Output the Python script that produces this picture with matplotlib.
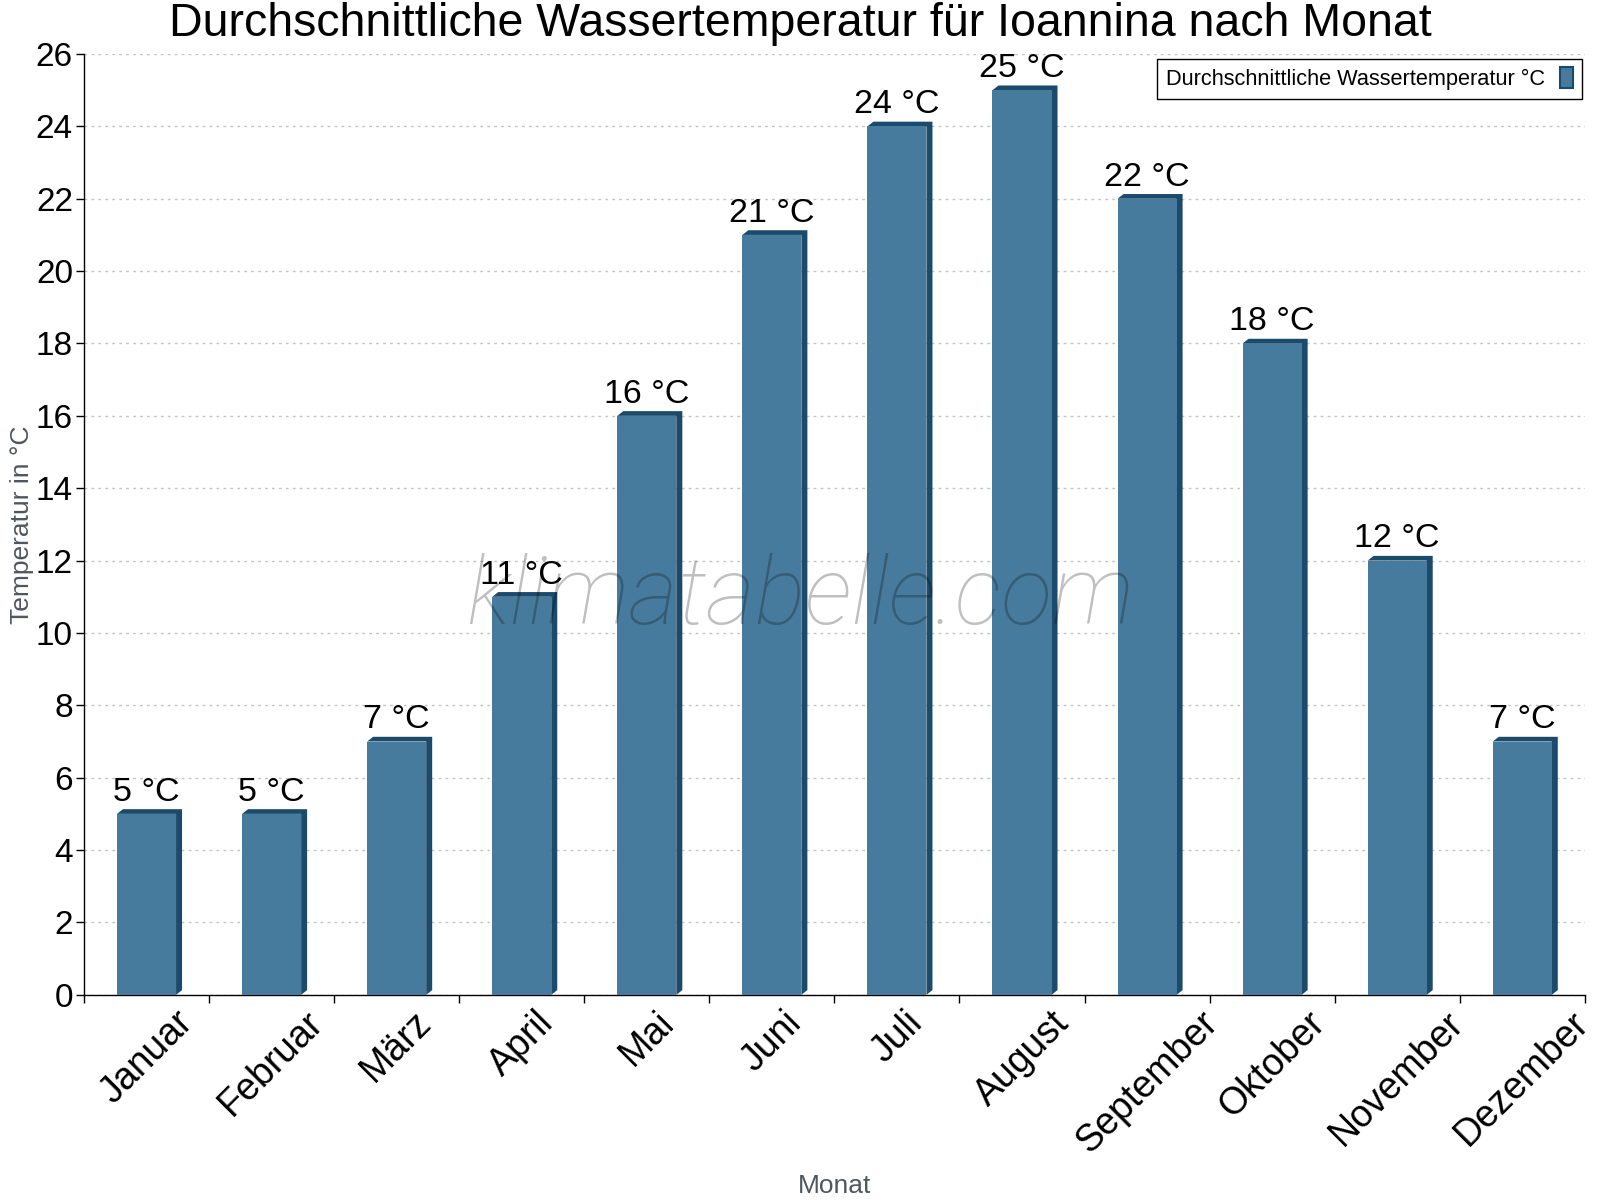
import matplotlib
matplotlib.use('Agg')
import matplotlib.pyplot as plt
from matplotlib.patches import Patch
from matplotlib.ticker import FixedLocator, MultipleLocator

plt.rcParams['font.family'] = ['Liberation Sans', 'DejaVu Sans']

months = ['Januar', 'Februar', 'März', 'April', 'Mai', 'Juni', 'Juli',
          'August', 'September', 'Oktober', 'November', 'Dezember']
water_temp = [5, 5, 7, 11, 16, 21, 24, 25, 22, 18, 12, 7]
value_labels = [f'{v} °C' for v in water_temp]
series_name = 'Durchschnittliche Wassertemperatur °C'

front = '#477b9d'
dark = '#1b4a6b'

fig = plt.figure(figsize=(16, 12), dpi=100)
ax = fig.add_axes([0.0525, 0.171, 0.938, 0.784])

xs = list(range(len(months)))
w = 0.472
dx = 0.048
dy = 0.13

# 3d look: dark top + side face, then the front face
for x, v in zip(xs, water_temp):
    x0 = x - w / 2
    x1 = x + w / 2
    ax.fill([x0, x0 + dx, x1 + dx, x1 + dx, x1, x1],
            [v, v + dy, v + dy, dy, 0, v], color=dark, lw=0, zorder=2)
ax.bar(xs, water_temp, width=w, color=front, lw=0, zorder=3)

for x, v, lab in zip(xs, water_temp, value_labels):
    ax.annotate(lab, (x, v + dy), xytext=(0, 1), textcoords='offset points',
                ha='center', va='bottom', fontsize=24.5, zorder=5)

ax.set_xlim(-0.5, len(months) - 0.5)
ax.set_ylim(0, 26)
ax.yaxis.set_major_locator(MultipleLocator(2))
ax.grid(axis='y', color='#c4c4c4', linestyle=(0, (2, 3)), linewidth=1, zorder=0)

ax.xaxis.set_major_locator(FixedLocator([i - 0.5 for i in range(len(months) + 1)]))
ax.xaxis.set_minor_locator(FixedLocator(xs))
ax.set_xticklabels([], minor=False)
ax.set_xticklabels(months, minor=True, rotation=45, fontsize=27)
ax.tick_params(axis='x', which='major', direction='out', length=6, width=1)
ax.tick_params(axis='x', which='minor', length=0, pad=7)
ax.tick_params(axis='y', direction='out', length=6, width=1, pad=2, labelsize=24)

for side in ['top', 'right']:
    ax.spines[side].set_visible(False)
ax.spines['left'].set_linewidth(1)
ax.spines['bottom'].set_linewidth(1)

ax.set_ylabel('Temperatur in °C', fontsize=19, color='#4f565e', labelpad=1)
ax.set_xlabel('Monat', fontsize=19, color='#4f565e', labelpad=10)

fig.text(0.5, 0.98, 'Durchschnittliche Wassertemperatur für Ioannina nach Monat',
         ha='center', va='center', fontsize=33.5)

leg = ax.legend(handles=[Patch(facecolor=front, edgecolor=dark, lw=1.5, label=series_name)],
                loc='upper right', bbox_to_anchor=(0.998, 0.995), markerfirst=False,
                fontsize=15.7, fancybox=False, framealpha=1, edgecolor='black',
                handlelength=0.6, handleheight=1.1, handletextpad=0.7,
                borderpad=0.4, borderaxespad=0)
leg.get_frame().set_linewidth(1)
leg.set_zorder(6)

# watermark
ax.text(0.477, 0.422, 'klimatabelle.com', transform=ax.transAxes, ha='center',
        va='center', fontsize=68, style='italic', fontweight='light',
        family=['Roboto', 'Liberation Sans'], color='black', alpha=0.25, zorder=7)

fig.savefig('out.png', dpi=100)
